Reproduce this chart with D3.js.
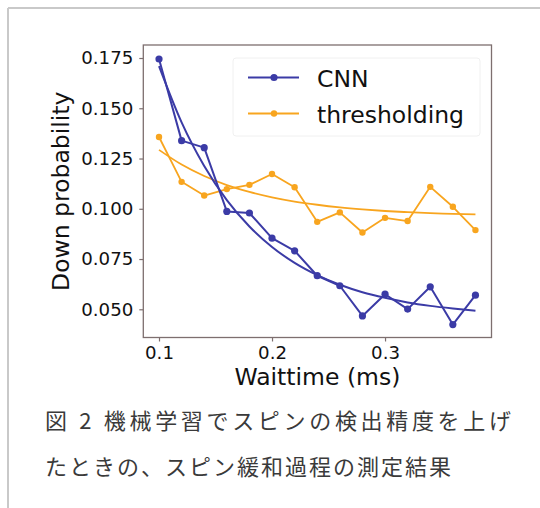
<!DOCTYPE html>
<html>
<head>
<meta charset="utf-8">
<script src="https://cdn.jsdelivr.net/npm/d3@7"></script>
<style>
html, body { margin: 0; padding: 0; background: #ffffff; }
svg { display: block; }
</style>
</head>
<body>
<svg id="chart" width="540" height="508"></svg>
<script>
// ---- data ----
const waittime = [0.10, 0.12, 0.14, 0.16, 0.18, 0.20, 0.22, 0.24, 0.26, 0.28, 0.30, 0.32, 0.34, 0.36, 0.38];
const cnnDown = [0.1745, 0.1339, 0.1304, 0.0987, 0.0979, 0.0854, 0.0791, 0.0667, 0.0617, 0.0467, 0.0575, 0.0501, 0.0612, 0.0424, 0.0570];
const thresholdingDown = [0.1357, 0.1134, 0.1066, 0.1098, 0.1119, 0.1173, 0.1107, 0.0935, 0.0982, 0.0882, 0.0955, 0.0939, 0.1109, 0.1010, 0.0894];
const cnnFit = [0.1710, 0.1430, 0.1213, 0.1043, 0.0912, 0.0810, 0.0731, 0.0670, 0.0622, 0.0585, 0.0557, 0.0534, 0.0517, 0.0504, 0.0493];
const thresholdingFit = [0.1293, 0.1220, 0.1163, 0.1118, 0.1084, 0.1057, 0.1036, 0.1020, 0.1007, 0.0997, 0.0989, 0.0983, 0.0978, 0.0975, 0.0972];
const seriesNames = ["CNN", "thresholding"];
const xTicks = [0.1, 0.2, 0.3];
const yTicks = [0.050, 0.075, 0.100, 0.125, 0.150, 0.175];
const xLabel = "Waittime (ms)";
const yLabel = "Down probability";
const captionLines = ["図 2 機械学習でスピンの検出精度を上げ", "たときの、スピン緩和過程の測定結果"];

// ---- layout ----
const svg = d3.select("#chart");
const plot = { left: 143.3, right: 491.5, top: 45, bottom: 337.5 };
const colors = { CNN: "#3b3ba6", thresholding: "#f8a51f" };
const spine = "#7d6f6f";
const font = "'DejaVu Sans', sans-serif";

// outer frame (top & left)
svg.append("line").attr("x1", 8).attr("x2", 540).attr("y1", 8).attr("y2", 8)
  .attr("stroke", "#c9c9c9").attr("stroke-width", 2);
svg.append("line").attr("x1", 8).attr("x2", 8).attr("y1", 8).attr("y2", 508)
  .attr("stroke", "#c9c9c9").attr("stroke-width", 2);

const x = d3.scaleLinear().domain([0.0861, 0.3942]).range([plot.left, plot.right]);
const y = d3.scaleLinear().domain([0.03597, 0.18147]).range([plot.bottom, plot.top]);

// axes
const xAxis = svg.append("g").attr("transform", `translate(0,${plot.bottom})`)
  .call(d3.axisBottom(x).tickValues(xTicks).tickFormat(d3.format(".1f")).tickSize(4).tickPadding(5));
const yAxis = svg.append("g").attr("transform", `translate(${plot.left},0)`)
  .call(d3.axisLeft(y).tickValues(yTicks).tickFormat(d3.format(".3f")).tickSize(4).tickPadding(6));
[xAxis, yAxis].forEach(g => {
  g.select(".domain").remove();
  g.selectAll(".tick line").attr("stroke", spine).attr("stroke-width", 1.2);
  g.selectAll(".tick text").attr("fill", "#111").style("font-family", font).style("font-size", "18.2px");
});

// spines box
svg.append("rect").attr("x", plot.left).attr("y", plot.top)
  .attr("width", plot.right - plot.left).attr("height", plot.bottom - plot.top)
  .attr("fill", "none").attr("stroke", spine).attr("stroke-width", 1.3);

// lines
const line = d3.line().x(d => x(d[0])).y(d => y(d[1]));
const smooth = d3.line().x(d => x(d[0])).y(d => y(d[1])).curve(d3.curveMonotoneX);
const series = [
  { name: "thresholding", data: thresholdingDown, fit: thresholdingFit, r: 3.2, w: 1.8 },
  { name: "CNN", data: cnnDown, fit: cnnFit, r: 3.6, w: 2 }
];
series.forEach(s => {
  const pts = waittime.map((t, i) => [t, s.data[i]]);
  const fitPts = waittime.map((t, i) => [t, s.fit[i]]);
  svg.append("path").attr("d", line(pts)).attr("fill", "none")
    .attr("stroke", colors[s.name]).attr("stroke-width", s.w).attr("stroke-linejoin", "round");
  svg.append("path").attr("d", smooth(fitPts)).attr("fill", "none")
    .attr("stroke", colors[s.name]).attr("stroke-width", s.w);
  svg.append("g").selectAll("circle").data(pts).join("circle")
    .attr("cx", d => x(d[0])).attr("cy", d => y(d[1])).attr("r", s.r)
    .attr("fill", colors[s.name]);
});

// legend
const leg = svg.append("g");
leg.append("rect").attr("x", 233).attr("y", 58).attr("width", 247).attr("height", 78).attr("rx", 3)
  .attr("fill", "#ffffff").attr("fill-opacity", 0.85).attr("stroke", "#f0f0f0").attr("stroke-width", 1);
seriesNames.forEach((name, i) => {
  const ly = 77.5 + i * 36;
  leg.append("line").attr("x1", 248).attr("x2", 299).attr("y1", ly).attr("y2", ly)
    .attr("stroke", colors[name]).attr("stroke-width", name === "CNN" ? 2 : 1.8);
  leg.append("circle").attr("cx", 274).attr("cy", ly).attr("r", name === "CNN" ? 3.6 : 3.2)
    .attr("fill", colors[name]);
  leg.append("text").attr("x", 317).attr("y", ly + 9).text(name)
    .attr("fill", "#111").style("font-family", font).style("font-size", "23.5px");
});

// axis labels
svg.append("text").attr("x", (plot.left + plot.right) / 2).attr("y", 385)
  .attr("text-anchor", "middle").text(xLabel)
  .attr("fill", "#111").style("font-family", font).style("font-size", "23.5px");
svg.append("text").attr("transform", `translate(69,${(plot.top + plot.bottom) / 2}) rotate(-90)`)
  .attr("text-anchor", "middle").text(yLabel)
  .attr("fill", "#111").style("font-family", font).style("font-size", "23.5px");

// caption
const capFont = "'Noto Sans CJK JP', sans-serif";
svg.append("text").attr("x", 45).attr("y", 429).text(captionLines[0])
  .attr("textLength", 466).attr("lengthAdjust", "spacing")
  .attr("fill", "#3a3a3a").style("font-family", capFont).style("font-size", "22px");
svg.append("text").attr("x", 45).attr("y", 475).text(captionLines[1])
  .attr("textLength", 406).attr("lengthAdjust", "spacing")
  .attr("fill", "#3a3a3a").style("font-family", capFont).style("font-size", "22px");
</script>
</body>
</html>
